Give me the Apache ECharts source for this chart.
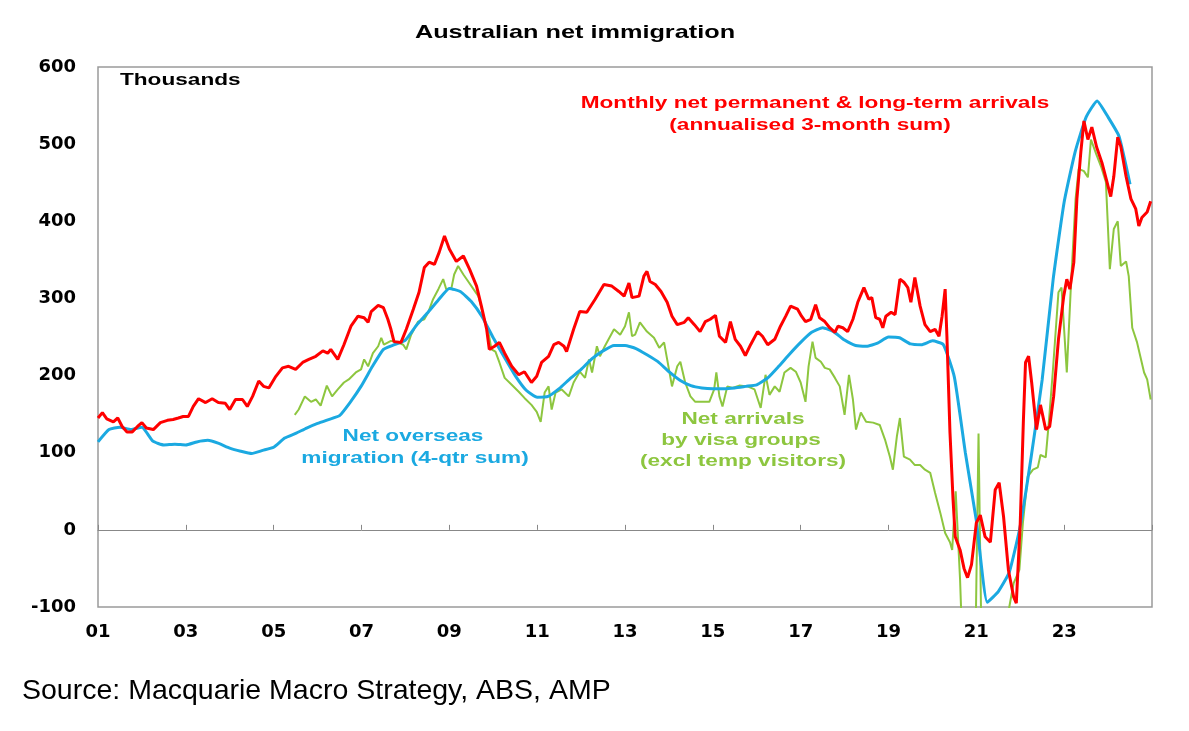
<!DOCTYPE html>
<html lang="en">
<head>
<meta charset="utf-8" />
<script src="https://cdn.jsdelivr.net/npm/echarts@6/dist/echarts.min.js"></script>
<title>Australian net immigration</title>
<style>
  html, body { margin: 0; padding: 0; background: #fff; }
  #chart { width: 1189px; height: 731px; }
</style>
</head>
<body>
<div id="chart"></div>
<script>
// y axis ticks (thousands)
var yTicks = [-100, 0, 100, 200, 300, 400, 500, 600];
// x axis: odd years 2001..2023 labelled as two digits
var xTickYears = [2001, 2003, 2005, 2007, 2009, 2011, 2013, 2015, 2017, 2019, 2021, 2023];

// Monthly net permanent & long-term arrivals (annualised 3-month sum) [year, thousands]
var redData = [
  [2001.00,145],[2001.10,152],[2001.20,144],[2001.35,140],[2001.45,145],[2001.55,134],[2001.66,127],[2001.78,127],[2001.90,134],
  [2002.00,139],[2002.10,132],[2002.26,130],[2002.42,139],[2002.58,142],[2002.71,143],[2002.83,145],[2002.94,147],
  [2003.06,147],[2003.17,160],[2003.29,170],[2003.45,165],[2003.60,170],[2003.74,165],[2003.90,164],
  [2004.00,156],[2004.13,169],[2004.29,169],[2004.40,160],[2004.52,173],[2004.66,193],[2004.77,186],[2004.89,184],
  [2005.05,199],[2005.20,210],[2005.34,212],[2005.50,208],[2005.66,217],[2005.80,221],[2005.96,225],
  [2006.12,232],[2006.23,229],[2006.30,234],[2006.46,221],[2006.60,240],[2006.76,264],[2006.92,277],
  [2007.06,275],[2007.15,269],[2007.22,283],[2007.38,291],[2007.50,288],[2007.60,273],[2007.67,260],[2007.74,244],[2007.90,243],
  [2008.02,260],[2008.18,286],[2008.31,308],[2008.43,340],[2008.54,347],[2008.66,344],[2008.77,360],[2008.89,381],
  [2009.00,364],[2009.16,348],[2009.32,355],[2009.46,338],[2009.62,316],[2009.73,290],[2009.85,260],[2009.91,234],
  [2010.03,238],[2010.14,243],[2010.26,229],[2010.42,212],[2010.58,201],[2010.71,205],[2010.87,191],[2010.99,199],
  [2011.10,217],[2011.26,225],[2011.38,240],[2011.49,243],[2011.61,238],[2011.67,231],[2011.83,260],[2011.97,283],
  [2012.13,282],[2012.32,299],[2012.52,318],[2012.70,316],[2012.86,309],[2012.98,303],
  [2013.09,320],[2013.16,301],[2013.32,303],[2013.43,329],[2013.50,335],[2013.57,322],[2013.69,318],[2013.82,309],[2013.96,295],
  [2014.07,277],[2014.19,266],[2014.35,269],[2014.44,275],[2014.58,266],[2014.71,257],[2014.83,270],[2014.94,273],
  [2015.06,278],[2015.15,251],[2015.29,243],[2015.40,270],[2015.51,247],[2015.63,238],[2015.74,226],[2015.86,240],
  [2016.02,257],[2016.13,251],[2016.25,240],[2016.41,247],[2016.54,264],[2016.66,277],[2016.77,290],[2016.93,286],
  [2017.02,277],[2017.11,270],[2017.23,273],[2017.34,292],[2017.43,275],[2017.55,270],[2017.66,262],[2017.78,256],[2017.85,264],[2017.96,262],
  [2018.07,257],[2018.19,273],[2018.30,295],[2018.44,314],[2018.55,299],[2018.62,301],[2018.71,275],[2018.80,273],[2018.87,262],[2018.94,277],
  [2019.06,282],[2019.15,279],[2019.26,325],[2019.35,321],[2019.44,314],[2019.51,295],[2019.60,327],[2019.72,290],[2019.83,266],[2019.95,257],
  [2020.06,260],[2020.15,251],[2020.22,277],[2020.29,312],[2020.33,251],[2020.40,126],[2020.47,39],[2020.52,-9],[2020.63,-26],[2020.72,-50],[2020.80,-62],[2020.89,-45],
  [2021.00,9],[2021.09,19],[2021.20,-9],[2021.32,-16],[2021.43,52],[2021.52,61],[2021.62,17],[2021.73,-52],[2021.85,-87],[2021.91,-95],
  [2022.00,9],[2022.07,139],[2022.12,217],[2022.19,225],[2022.26,191],[2022.37,130],[2022.46,162],[2022.58,130],[2022.67,134],[2022.76,173],[2022.87,247],[2022.99,303],
  [2023.06,325],[2023.13,312],[2023.22,347],[2023.29,429],[2023.38,490],[2023.45,530],[2023.54,506],[2023.63,522],[2023.74,496],[2023.86,476],[2023.97,452],
  [2024.06,432],[2024.13,458],[2024.22,509],[2024.29,497],[2024.41,458],[2024.52,429],[2024.63,416],[2024.70,394],[2024.77,405],[2024.89,412],[2024.97,426]
];

// Net overseas migration (4-qtr sum), quarterly [year, thousands]
var blueData = [
  [2001.00,114],[2001.25,130],[2001.50,133],[2001.75,130],[2002.00,133],[2002.25,115],[2002.50,110],[2002.75,111],
  [2003.00,110],[2003.25,114],[2003.50,116],[2003.75,112],[2004.00,106],[2004.25,102],[2004.50,99],[2004.75,103],
  [2005.00,107],[2005.25,119],[2005.50,125],[2005.75,132],[2006.00,138],[2006.25,143],[2006.50,148],[2006.75,166],
  [2007.00,187],[2007.25,212],[2007.50,234],[2007.75,240],[2008.00,246],[2008.25,265],[2008.50,281],[2008.75,298],
  [2009.00,313],[2009.25,309],[2009.50,296],[2009.75,276],[2010.00,249],[2010.25,224],[2010.50,200],[2010.75,181],
  [2011.00,172],[2011.25,173],[2011.50,183],[2011.75,196],[2012.00,208],[2012.25,222],[2012.50,232],[2012.75,239],
  [2013.00,239],[2013.25,235],[2013.50,227],[2013.75,218],[2014.00,205],[2014.25,194],[2014.50,187],[2014.75,184],
  [2015.00,183],[2015.25,183],[2015.50,184],[2015.75,186],[2016.00,188],[2016.25,197],[2016.50,212],[2016.75,228],
  [2017.00,243],[2017.25,256],[2017.50,262],[2017.75,257],[2018.00,246],[2018.25,239],[2018.50,238],[2018.75,242],
  [2019.00,250],[2019.25,249],[2019.50,241],[2019.75,240],[2020.00,245],[2020.25,240],[2020.50,198],[2020.75,100],
  [2021.00,12],[2021.25,-94],[2021.50,-80],[2021.75,-55],[2022.00,5],[2022.25,95],[2022.50,195],[2022.75,325],
  [2023.00,425],[2023.25,490],[2023.50,535],[2023.75,556],[2024.00,535],[2024.25,510],[2024.50,448]
];

// Net arrivals by visa groups (excl temp visitors) [year, thousands]
var greenData = [
  [2005.48,149],[2005.57,156],[2005.71,173],[2005.85,166],[2005.96,169],
  [2006.07,161],[2006.21,187],[2006.33,173],[2006.46,182],[2006.60,191],[2006.71,195],[2006.87,204],[2006.99,208],
  [2007.06,221],[2007.15,212],[2007.26,229],[2007.38,238],[2007.45,249],[2007.51,240],[2007.67,245],[2007.83,243],[2007.95,240],
  [2008.02,234],[2008.13,253],[2008.29,270],[2008.43,273],[2008.52,282],[2008.63,299],[2008.75,312],[2008.86,325],[2008.93,312],
  [2009.05,314],[2009.11,331],[2009.20,342],[2009.32,331],[2009.43,322],[2009.55,312],[2009.66,303],[2009.78,277],[2009.89,256],[2009.96,234],
  [2010.05,231],[2010.14,217],[2010.26,197],[2010.42,188],[2010.58,179],[2010.71,171],[2010.87,162],[2010.99,153],
  [2011.08,140],[2011.17,178],[2011.26,186],[2011.33,156],[2011.42,178],[2011.56,182],[2011.72,173],[2011.83,191],[2011.97,205],
  [2012.09,197],[2012.18,221],[2012.25,204],[2012.36,238],[2012.43,225],[2012.54,238],[2012.75,260],[2012.89,253],
  [2013.00,264],[2013.09,282],[2013.16,251],[2013.23,253],[2013.34,269],[2013.50,257],[2013.66,249],[2013.78,236],[2013.89,243],[2013.96,221],
  [2014.07,186],[2014.19,212],[2014.26,218],[2014.37,191],[2014.49,173],[2014.60,166],[2014.76,166],[2014.92,166],
  [2015.03,182],[2015.08,204],[2015.15,173],[2015.22,160],[2015.33,186],[2015.45,184],[2015.60,187],[2015.79,186],[2015.95,182],
  [2016.09,158],[2016.20,201],[2016.29,175],[2016.41,186],[2016.52,179],[2016.63,204],[2016.77,210],[2016.89,205],
  [2017.00,191],[2017.11,166],[2017.18,212],[2017.27,244],[2017.34,223],[2017.46,218],[2017.55,210],[2017.66,208],[2017.78,197],[2017.89,186],
  [2018.00,149],[2018.10,201],[2018.19,169],[2018.26,130],[2018.37,152],[2018.49,140],[2018.65,139],[2018.80,136],[2018.92,117],
  [2019.03,95],[2019.10,78],[2019.19,121],[2019.26,145],[2019.35,95],[2019.49,91],[2019.60,84],[2019.72,84],[2019.83,78],[2019.95,74],
  [2020.06,48],[2020.18,22],[2020.29,-4],[2020.40,-16],[2020.45,-26],[2020.53,50],[2020.63,-65],[2020.70,-180],[2020.85,-180],[2020.98,-150],
  [2021.05,125],[2021.12,-160],[2021.35,-200],[2021.60,-160],[2021.75,-100],[2021.85,-69],[2021.98,-52],
  [2022.06,9],[2022.17,69],[2022.29,78],[2022.40,81],[2022.46,97],[2022.58,94],[2022.65,139],[2022.74,204],[2022.87,308],[2022.94,314],
  [2023.06,204],[2023.15,312],[2023.26,429],[2023.33,468],[2023.45,465],[2023.54,457],[2023.61,506],[2023.73,487],[2023.84,471],[2023.95,451],
  [2024.04,338],[2024.13,390],[2024.22,400],[2024.29,342],[2024.41,348],[2024.47,329],[2024.55,262],[2024.66,243],[2024.82,204],[2024.89,195],[2024.97,169]
];

var FONT = 'Arial, "Liberation Sans", Helvetica, sans-serif';
var AXFONT = '"DejaVu Sans", Verdana, sans-serif';
var RED = '#ff0000', BLUE = '#1ba9e1', GREEN = '#8dc63f';
var STRETCH = 1.33; // chart text in the picture is drawn a bit wide

var chart = echarts.init(document.getElementById('chart'));

function txt(x, y, text, size, color, weight, align, sx) {
  return {
    type: 'text', x: x, y: y, silent: true, scaleX: sx || STRETCH,
    style: {
      text: text, fill: color,
      font: (weight || 'bold') + ' ' + size + 'px ' + FONT,
      textAlign: align || 'center', align: align || 'center',
      textVerticalAlign: 'middle', verticalAlign: 'middle'
    }
  };
}

var option = {
  backgroundColor: '#fff',
  animation: false,
  grid: { left: 98, right: 37, top: 67, bottom: 124, show: true, borderColor: '#9a9a9a', borderWidth: 1.5 },
  xAxis: [
    {
      type: 'value', min: 2001, max: 2025, interval: 2,
      axisLine: { show: false, onZero: false }, axisTick: { show: false }, splitLine: { show: false },
      axisLabel: {
        margin: 16, color: '#000', fontWeight: 'bold', fontSize: 18, fontFamily: AXFONT,
        formatter: function (v) { return xTickYears.indexOf(v) >= 0 ? String(v).slice(2) : ''; }
      }
    },
    {
      // zero line with small upward ticks
      type: 'value', min: 2001, max: 2025, interval: 2, position: 'bottom',
      axisLine: { show: true, onZero: true, onZeroAxisIndex: 0, lineStyle: { color: '#888', width: 1 } },
      axisTick: { show: true, inside: true, length: 5, lineStyle: { color: '#888' } },
      axisLabel: { show: false }, splitLine: { show: false }
    }
  ],
  yAxis: {
    type: 'value', min: -100, max: 600, interval: 100,
    axisLine: { show: false }, axisTick: { show: false }, splitLine: { show: false },
    axisLabel: {
      margin: 22, color: '#000', fontWeight: 'bold', fontSize: 18, fontFamily: AXFONT,
      formatter: function (v) { return yTicks.indexOf(v) >= 0 ? String(v) : ''; }
    }
  },
  series: [
    { name: 'Net arrivals by visa groups', type: 'line', xAxisIndex: 0, data: greenData, showSymbol: false, clip: true,
      lineStyle: { color: GREEN, width: 2 }, itemStyle: { color: GREEN } },
    { name: 'Net overseas migration', type: 'line', xAxisIndex: 0, data: blueData, showSymbol: false, clip: true, smooth: 0.15,
      lineStyle: { color: BLUE, width: 3 }, itemStyle: { color: BLUE } },
    { name: 'Monthly net PLT arrivals', type: 'line', xAxisIndex: 0, data: redData, showSymbol: false, clip: true,
      lineStyle: { color: RED, width: 3 }, itemStyle: { color: RED } }
  ],
  graphic: [
    txt(575, 33, 'Australian net immigration', 19, '#000'),
    txt(120, 80, 'Thousands', 17, '#000', 'bold', 'left'),
    txt(815, 103, 'Monthly net permanent & long-term arrivals', 17, RED),
    txt(810, 125, '(annualised 3-month sum)', 17, RED),
    txt(413, 436, 'Net overseas', 17, BLUE),
    txt(415, 458, 'migration (4-qtr sum)', 17, BLUE),
    txt(743, 419, 'Net arrivals', 17, GREEN),
    txt(741, 440, 'by visa groups', 17, GREEN),
    txt(743, 461, '(excl temp visitors)', 17, GREEN),
    txt(22, 691, 'Source: Macquarie Macro Strategy, ABS, AMP', 28.5, '#000', 'normal', 'left', 1)
  ]
};

chart.setOption(option);
</script>
</body>
</html>
